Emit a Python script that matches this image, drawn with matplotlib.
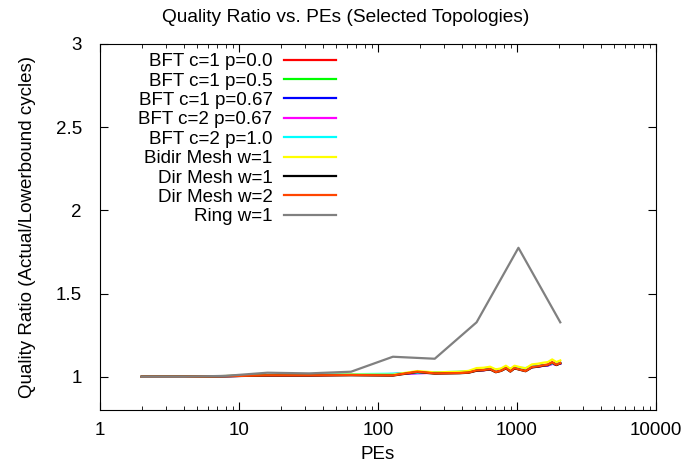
import matplotlib
matplotlib.use("Agg")
import matplotlib.pyplot as plt
from matplotlib.ticker import LogLocator, NullFormatter

plt.rcParams['font.family'] = ['Liberation Sans', 'DejaVu Sans']

# PE counts for the BFT / mesh runs
pes = [2, 4, 8, 16, 32, 64, 128, 192, 256, 384, 448, 512, 576, 640, 704,
       768, 832, 896, 960, 1024, 1152, 1280, 1408, 1536, 1664, 1792, 1920, 2048]

bft_c1_p00 = [1.000, 1.000, 1.004, 1.010, 1.009, 1.011, 1.009, 1.031, 1.021, 1.023,
              1.026, 1.039, 1.041, 1.047, 1.029, 1.037, 1.053, 1.033, 1.053, 1.046,
              1.035, 1.059, 1.063, 1.069, 1.073, 1.087, 1.073, 1.083]
bft_c1_p05 = [1.000, 1.000, 1.003, 1.009, 1.010, 1.012, 1.014, 1.024, 1.022, 1.026,
              1.028, 1.038, 1.040, 1.045, 1.036, 1.040, 1.051, 1.040, 1.052, 1.049,
              1.043, 1.058, 1.062, 1.067, 1.070, 1.082, 1.073, 1.081]
bft_c1_p067 = [1.000, 1.000, 1.003, 1.009, 1.010, 1.013, 1.016, 1.022, 1.024, 1.028,
               1.030, 1.038, 1.040, 1.044, 1.042, 1.044, 1.050, 1.046, 1.052, 1.052,
               1.050, 1.058, 1.062, 1.066, 1.068, 1.078, 1.074, 1.080]
bft_c2_p067 = [1.000, 1.000, 1.003, 1.008, 1.009, 1.012, 1.015, 1.021, 1.023, 1.027,
               1.029, 1.037, 1.039, 1.043, 1.041, 1.043, 1.049, 1.045, 1.051, 1.051,
               1.049, 1.057, 1.061, 1.065, 1.067, 1.077, 1.073, 1.079]
bft_c2_p10 = [1.000, 1.000, 1.004, 1.010, 1.012, 1.015, 1.018, 1.024, 1.026, 1.030,
              1.032, 1.040, 1.042, 1.046, 1.044, 1.046, 1.052, 1.048, 1.054, 1.054,
              1.052, 1.060, 1.064, 1.068, 1.070, 1.080, 1.076, 1.082]
bidir_mesh_w1 = [1.000, 1.000, 1.004, 1.010, 1.010, 1.013, 1.012, 1.034, 1.026, 1.030,
                 1.035, 1.052, 1.054, 1.060, 1.044, 1.050, 1.066, 1.048, 1.066, 1.060,
                 1.050, 1.074, 1.078, 1.084, 1.088, 1.104, 1.088, 1.098]
dir_mesh_w1 = [1.000, 1.000, 1.003, 1.007, 1.007, 1.009, 1.007, 1.028, 1.019, 1.021,
               1.024, 1.036, 1.039, 1.044, 1.027, 1.035, 1.050, 1.031, 1.050, 1.044,
               1.033, 1.056, 1.060, 1.066, 1.070, 1.084, 1.070, 1.080]
dir_mesh_w2 = [1.000, 1.000, 1.003, 1.008, 1.008, 1.010, 1.008, 1.030, 1.020, 1.022,
               1.025, 1.038, 1.040, 1.046, 1.028, 1.036, 1.052, 1.032, 1.052, 1.045,
               1.034, 1.058, 1.062, 1.068, 1.072, 1.086, 1.072, 1.082]

# ring was only run on powers of two
ring_pes = [2, 4, 8, 16, 32, 64, 128, 256, 512, 1024, 2048]
ring_w1 = [1.000, 1.000, 1.005, 1.024, 1.020, 1.030, 1.120, 1.108, 1.327, 1.775, 1.327]

series = [
    ("BFT c=1 p=0.0", bft_c1_p00, "#ff0000"),
    ("BFT c=1 p=0.5", bft_c1_p05, "#00ff00"),
    ("BFT c=1 p=0.67", bft_c1_p067, "#0000ff"),
    ("BFT c=2 p=0.67", bft_c2_p067, "#ff00ff"),
    ("BFT c=2 p=1.0", bft_c2_p10, "#00ffff"),
    ("Bidir Mesh w=1", bidir_mesh_w1, "#ffff00"),
    ("Dir Mesh w=1", dir_mesh_w1, "#000000"),
    ("Dir Mesh w=2", dir_mesh_w2, "#ff4500"),
]

fig = plt.figure(figsize=(6.88, 4.70), dpi=100)
ax = fig.add_axes([0.1453, 0.1277, 0.8082, 0.7787])

for name, vals, col in series:
    ax.plot(pes, vals, color=col, lw=1.6, label=name)
ax.plot(ring_pes, ring_w1, color="#808080", lw=1.6, label="Ring w=1")

ax.set_xscale("log")
ax.set_xlim(1, 10000)
ax.set_ylim(0.8, 3)
ax.set_xticks([1, 10, 100, 1000, 10000])
ax.set_xticklabels(["1", "10", "100", "1000", "10000"])
ax.xaxis.set_minor_locator(LogLocator(base=10, subs=range(2, 10), numticks=20))
ax.xaxis.set_minor_formatter(NullFormatter())
ax.set_yticks([1, 1.5, 2, 2.5, 3])
ax.set_yticklabels(["1", "1.5", "2", "2.5", "3"])
ax.tick_params(which="both", direction="in", top=True, right=True, labelsize=13.5)
ax.tick_params(axis="x", pad=9)
ax.tick_params(axis="y", pad=13)
ax.tick_params(which="major", length=6)
ax.tick_params(which="minor", length=3)

# gnuplot centres the title on the canvas, not on the plot area
fig.suptitle("Quality Ratio vs. PEs (Selected Topologies)", fontsize=13.8,
             x=0.503, y=0.963, va="center")
ax.set_xlabel("PEs", fontsize=13.5, labelpad=5)
ax.set_ylabel("Quality Ratio (Actual/Lowerbound cycles)", fontsize=13.5, labelpad=14)

leg = ax.legend(loc="upper right", bbox_to_anchor=(0.425, 0.975), frameon=False,
                markerfirst=False, fontsize=13.5, handlelength=2.8, handletextpad=0.6,
                labelspacing=0.12, borderpad=0, borderaxespad=0)
# right-align the legend rows like gnuplot does
leg._legend_box._children[-1]._children[0].align = "right"

fig.savefig("out.png", dpi=100)
